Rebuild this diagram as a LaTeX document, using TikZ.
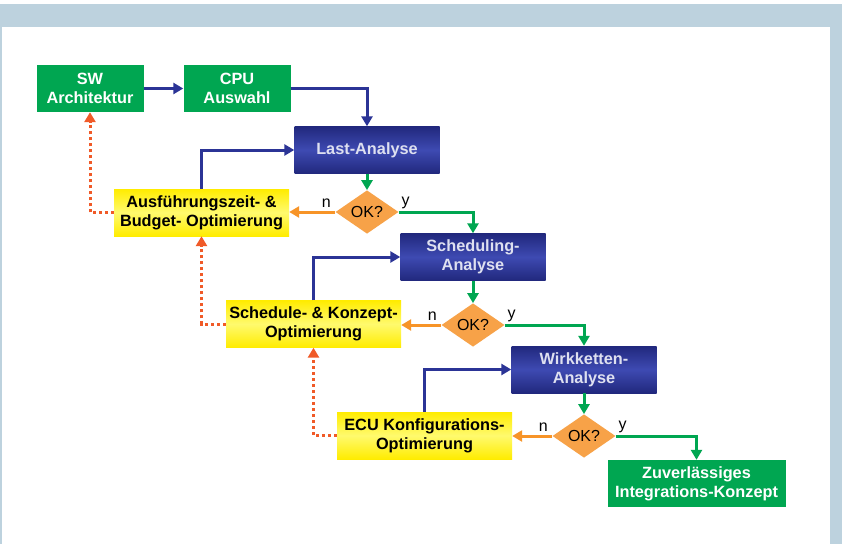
\documentclass[tikz,border=0pt]{standalone}
\usepackage{fontspec}
\setmainfont{Liberation Sans}
\usetikzlibrary{arrows.meta,shapes.geometric}
\definecolor{myframe}{RGB}{189,210,222}
\definecolor{mygreen}{RGB}{0,166,81}
\definecolor{myblue}{RGB}{43,52,150}
\definecolor{mybluedark}{RGB}{33,40,125}
\definecolor{mybluelight}{RGB}{62,74,178}
\definecolor{mybluetext}{RGB}{222,224,240}
\definecolor{myyellow}{RGB}{255,236,0}
\definecolor{myyellowlight}{RGB}{255,250,110}
\definecolor{myorange}{RGB}{247,162,72}
\definecolor{myorangeline}{RGB}{247,148,40}
\definecolor{myred}{RGB}{240,90,40}

\begin{document}
\begin{tikzpicture}[x=1pt, y=-1pt,
    boxfont/.style={font=\fontsize{16.3}{19}\selectfont\bfseries},
    startbox/.style={boxfont, fill=mygreen, text=white, minimum height=47pt, inner sep=0pt, align=center},
    analysisbox/.style={boxfont, top color=mybluedark, bottom color=mybluedark, middle color=mybluelight, text=mybluetext, minimum width=145pt, minimum height=47pt, inner sep=0pt, align=center},
    optbox/.style={boxfont, top color=myyellow, bottom color=myyellow, middle color=myyellowlight, text=black, minimum width=175pt, minimum height=47pt, inner sep=0pt, align=center},
    decision/.style={diamond, fill=myorange, minimum width=63pt, minimum height=40pt, inner sep=0pt, font=\fontsize{16}{19}\selectfont},
    lbl/.style={font=\fontsize{16}{19}\selectfont, inner sep=0pt, anchor=base},
    bluearrow/.style={draw=myblue, line width=3pt, -{Triangle[length=10pt,width=11pt]}},
    greenarrow/.style={draw=mygreen, line width=3pt, -{Triangle[length=10pt,width=11pt]}},
    orangearrow/.style={draw=myorangeline, line width=3pt, -{Triangle[length=10pt,width=11pt]}},
    dotarrow/.style={draw=myred, line width=3pt, dash pattern=on 3pt off 3pt, -{Triangle[length=10pt,width=11pt]}}]

    % Frame
    \useasboundingbox (0,0) rectangle (842,544);
    \fill[white] (0,0) rectangle (842,4);
    \fill[myframe] (0,4) rectangle (842,544);
    \fill[white] (2,27) rectangle (830,544);

    % Start boxes
    \node[startbox, minimum width=107pt] (sw) at (90,88.5) {SW\\Architektur};
    \node[startbox, minimum width=107pt] (cpu) at (237,88.5) {CPU\\Auswahl};

    % Analysis steps
    \node[analysisbox] (last) at (367,150) {Last-Analyse};
    \node[analysisbox] (sched) at (473,257) {Scheduling-\\Analyse};
    \node[analysisbox] (wirk) at (584,369.5) {Wirkketten-\\Analyse};

    % Decisions
    \node[decision] (ok1) at (367,212) {OK?};
    \node[decision] (ok2) at (473,325) {OK?};
    \node[decision] (ok3) at (584,436) {OK?};

    % Optimisation boxes
    \node[optbox] (opt1) at (201.5,212.5) {Ausführungszeit- \&\\Budget- Optimierung};
    \node[optbox] (opt2) at (313.5,324) {Schedule- \& Konzept-\\Optimierung};
    \node[optbox] (opt3) at (424.5,435.5) {ECU Konfigurations-\\Optimierung};

    % Result
    \node[startbox, minimum width=178pt] (result) at (696.5,483.5) {Zuverlässiges\\Integrations-Konzept};

    % Main flow
    \draw[bluearrow] (sw) -- (cpu);
    \draw[bluearrow] (cpu.east) -| (last.north);
    \draw[greenarrow] (last) -- (ok1);
    \draw[greenarrow] (ok1.east) -| (sched.north);
    \draw[greenarrow] (sched) -- (ok2);
    \draw[greenarrow] (ok2.east) -| (wirk.north);
    \draw[greenarrow] (wirk) -- (ok3);
    \draw[greenarrow] (ok3.east) -| (result.north);

    % "no" branches
    \draw[orangearrow] (ok1.west) -- (ok1.west -| opt1.east);
    \draw[orangearrow] (ok2.west) -- (ok2.west -| opt2.east);
    \draw[orangearrow] (ok3.west) -- (ok3.west -| opt3.east);

    % Back to the analysis
    \draw[bluearrow] (opt1.north) |- (last.west);
    \draw[bluearrow] (opt2.north) |- (sched.west);
    \draw[bluearrow] (opt3.north) |- (wirk.west);

    % Escalation to the step before
    \draw[dotarrow] (opt1.west) -| (sw.south);
    \draw[dotarrow] (opt2.west) -| (opt1.south);
    \draw[dotarrow] (opt3.west) -| (opt2.south);

    % n / y labels
    \node[lbl] (n1) at ([xshift=-9pt, yshift=5pt]ok1.west) {n};
    \node[lbl] (y1) at ([xshift=7pt, yshift=7pt]ok1.east) {y};
    \node[lbl] (n2) at ([xshift=-9pt, yshift=5pt]ok2.west) {n};
    \node[lbl] (y2) at ([xshift=7pt, yshift=7pt]ok2.east) {y};
    \node[lbl] (n3) at ([xshift=-9pt, yshift=5pt]ok3.west) {n};
    \node[lbl] (y3) at ([xshift=7pt, yshift=7pt]ok3.east) {y};
\end{tikzpicture}
\end{document}
